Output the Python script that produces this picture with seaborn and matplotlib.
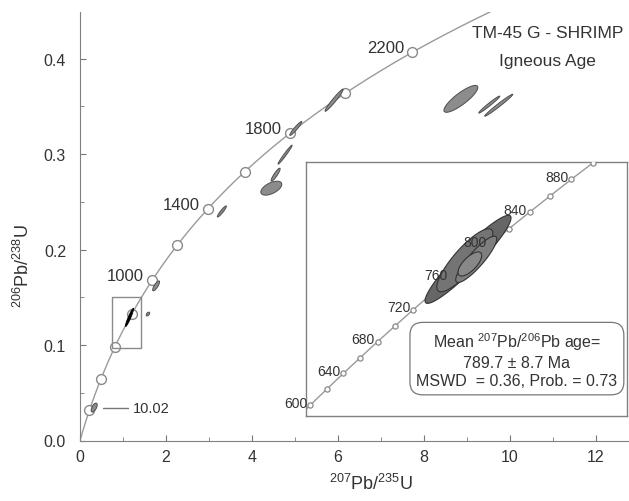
import numpy as np
import pandas as pd
import matplotlib
matplotlib.use("Agg")
import matplotlib.pyplot as plt
import seaborn as sns

# decay constants (1/yr) used for the concordia curve
L238 = 1.55125e-10
L235 = 9.8485e-10

# concordia age marks (Ma)
main_ages = [200, 400, 600, 800, 1000, 1200, 1400, 1600, 1800, 2000, 2200]
main_labels = [1000, 1400, 1800, 2200]
inset_ages = [600, 620, 640, 660, 680, 700, 720, 740, 760, 780, 800, 820, 840, 860, 880, 900]
inset_labels = [600, 640, 680, 720, 760, 800, 840, 880]

# zircon analyses in the main diagram: centre, 1-sigma and correlation
spot_x = [0.33, 1.58, 1.77, 3.30, 4.45, 4.55, 4.77, 5.02, 5.91, 8.86, 9.52, 9.74]
spot_y = [0.0345, 0.1325, 0.162, 0.240, 0.2644, 0.2785, 0.2995, 0.327, 0.3565, 0.358, 0.352, 0.3513]
spot_sx = [0.07, 0.04, 0.08, 0.105, 0.244, 0.105, 0.163, 0.14, 0.21, 0.395, 0.244, 0.326]
spot_sy = [0.0047, 0.002, 0.0052, 0.0058, 0.0073, 0.0068, 0.0099, 0.0073, 0.0115, 0.0141, 0.0089, 0.0115]
spot_rho = [0.6, 0.5, 0.8, 0.93, 0.55, 0.9, 0.98, 0.95, 0.97, 0.85, 0.98, 0.985]

# igneous population (shown black in the main plot, zoomed in the inset)
ign_x = [1.152, 1.145, 1.17, 1.156]
ign_y = [0.1290, 0.1288, 0.129, 0.128]
ign_sx = [0.0944, 0.0615, 0.045, 0.026]
ign_sy = [0.0095, 0.0068, 0.0050, 0.0026]
ign_rho = [0.94, 0.85, 0.88, 0.7]
ign_fill = ["#666666", "#747474", "#7e7e7e", "#888888"]


def ellipse_xy(cx, cy, sx, sy, rho, n=120):
    t = np.linspace(0, 2 * np.pi, n)
    x = cx + sx * np.cos(t)
    y = cy + sy * (rho * np.cos(t) + np.sqrt(1 - rho ** 2) * np.sin(t))
    return x, y


def concordia(ages_ma):
    a = np.asarray(ages_ma, dtype=float) * 1e6
    return np.exp(L235 * a) - 1, np.exp(L238 * a) - 1


sns.set_style("ticks")
plt.rcParams["font.family"] = ["Liberation Sans", "DejaVu Sans"]
plt.rcParams["mathtext.default"] = "regular"

fig = plt.figure(figsize=(6.29, 5.02), dpi=100)
ax = fig.add_axes([80 / 629, 60.5 / 502, 549 / 629, 428.5 / 502])

# concordia curve
cx, cy = concordia(np.linspace(0, 2420, 400))
curve = pd.DataFrame({"x": cx, "y": cy})
sns.lineplot(data=curve, x="x", y="y", sort=False, estimator=None, color="#9a9a9a", lw=1.0, ax=ax, zorder=2)
mx, my = concordia(main_ages)
sns.scatterplot(x=mx, y=my, s=50, color="white", edgecolor="#8a8a8a", linewidth=1.0, ax=ax, zorder=3)
for age in main_labels:
    x, y = concordia([age])
    ax.annotate(str(age), (x[0], y[0]), xytext=(-6, 0), textcoords="offset points",
                ha="right", va="baseline", fontsize=12, color="#333333")

# analyses
for i in range(len(spot_x)):
    ex, ey = ellipse_xy(spot_x[i], spot_y[i], spot_sx[i], spot_sy[i], spot_rho[i])
    ax.fill(ex, ey, facecolor="#8c8c8c", edgecolor="#4d4d4d", lw=0.7, zorder=4)
ex, ey = ellipse_xy(ign_x[0], ign_y[0], ign_sx[0], ign_sy[0], ign_rho[0])
ax.fill(ex, ey, facecolor="black", edgecolor="black", lw=0.6, zorder=4)

# zoom box and annotation
bx0, bx1, by0, by1 = 0.74, 1.42, 0.097, 0.150
ax.plot([bx0, bx1, bx1, bx0, bx0], [by0, by0, by1, by1, by0], color="#8a8a8a", lw=1.0, zorder=3)
ax.plot([0.53, 1.12], [0.0345, 0.0345], color="#777777", lw=1.0)
ax.text(1.24, 0.0345, "10.02", fontsize=10.5, va="center", color="#333333")

ax.text(0.852, 0.953, "TM-45 G - SHRIMP", transform=ax.transAxes, ha="center", va="center",
        fontsize=12.5, color="#333333")
ax.text(0.852, 0.886, "Igneous Age", transform=ax.transAxes, ha="center", va="center",
        fontsize=12.5, color="#333333")

ax.set_xlim(0, 12.77)
ax.set_ylim(0, 0.449)
ax.set_xticks([0, 2, 4, 6, 8, 10, 12])
ax.set_xticks(np.arange(1, 13, 2), minor=True)
ax.set_yticks([0.0, 0.1, 0.2, 0.3, 0.4])
ax.set_yticks([0.05, 0.15, 0.25, 0.35], minor=True)
ax.set_yticklabels(["0.0", "0.1", "0.2", "0.3", "0.4"])
ax.tick_params(which="both", direction="in", color="#777777", labelcolor="#333333", labelsize=11.5)
ax.tick_params(which="major", length=4)
ax.tick_params(which="minor", length=3)
ax.tick_params(axis="x", which="major", pad=6)
ax.tick_params(axis="y", which="major", pad=10)
for s in ["top", "right"]:
    ax.spines[s].set_visible(False)
for s in ["left", "bottom"]:
    ax.spines[s].set_color("#808080")
ax.set_xlabel("$^{207}$Pb/$^{235}$U", fontsize=13, color="#333333")
ax.set_ylabel("$^{206}$Pb/$^{238}$U", fontsize=13, color="#333333")
ax.xaxis.set_label_coords(0.53, -0.075)
ax.yaxis.set_label_coords(-0.085, 0.41)

# inset
axi = fig.add_axes([306 / 629, 85 / 502, 321 / 629, 254 / 502])
axi.set_facecolor("white")
icx, icy = concordia(np.linspace(590, 910, 200))
sns.lineplot(x=icx, y=icy, sort=False, estimator=None, color="#9a9a9a", lw=1.0, ax=axi, zorder=2)
ix, iy = concordia(inset_ages)
sns.scatterplot(x=ix, y=iy, s=14, color="white", edgecolor="#8a8a8a", linewidth=0.9, ax=axi, zorder=3)
for age in inset_labels:
    x, y = concordia([age])
    axi.annotate(str(age), (x[0], y[0]), xytext=(-2, -1), textcoords="offset points",
                 ha="right", va="baseline", fontsize=10, color="#333333", zorder=6)
for i in range(len(ign_x)):
    ex, ey = ellipse_xy(ign_x[i], ign_y[i], ign_sx[i], ign_sy[i], ign_rho[i])
    axi.fill(ex, ey, facecolor=ign_fill[i], edgecolor="#333333", lw=0.8, zorder=4)
axi.text(0.657, 0.222, "Mean $^{207}$Pb/$^{206}$Pb age=\n789.7 ± 8.7 Ma\nMSWD  = 0.36, Prob. = 0.73",
         transform=axi.transAxes, ha="center", va="center", fontsize=11.5, color="#333333",
         linespacing=1.25, zorder=7,
         bbox=dict(boxstyle="round,pad=0.4,rounding_size=0.8", fc="white", ec="#777777", lw=0.9))
axi.set_xlim(0.7963, 1.501)
axi.set_ylim(0.0952, 0.1500)
axi.set_xticks([])
axi.set_yticks([])
for s in axi.spines.values():
    s.set_color("#808080")
    s.set_linewidth(1.0)

fig.savefig("out.png", dpi=100)
